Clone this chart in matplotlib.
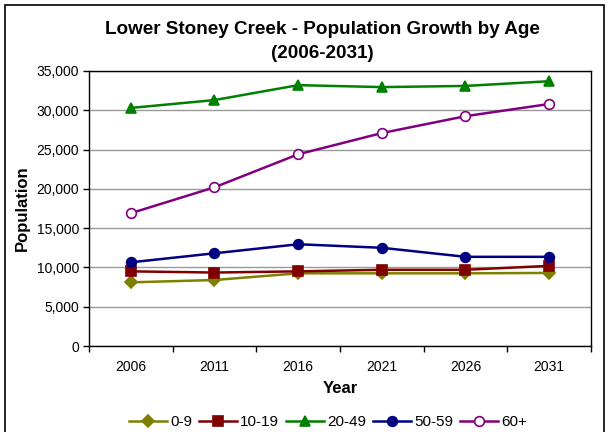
import numpy as np
import matplotlib.pyplot as plt
from matplotlib.patches import Rectangle
from matplotlib.ticker import FuncFormatter, FixedLocator

plt.rcParams['font.family'] = ['Liberation Sans', 'DejaVu Sans']

# ---- data ----
years = ["2006", "2011", "2016", "2021", "2026", "2031"]
age_0_9 = [8100, 8400, 9250, 9250, 9250, 9300]
age_10_19 = [9500, 9350, 9500, 9700, 9700, 10200]
age_20_49 = [30300, 31300, 33200, 32950, 33100, 33700]
age_50_59 = [10650, 11800, 12950, 12500, 11350, 11350]
age_60_plus = [16900, 20200, 24400, 27100, 29250, 30800]

series = [
    ("0-9", age_0_9, "#808000", "D", "#808000", 6.5),
    ("10-19", age_10_19, "#800000", "s", "#800000", 6.5),
    ("20-49", age_20_49, "#008000", "^", "#008000", 7.5),
    ("50-59", age_50_59, "#000080", "o", "#000080", 7),
    ("60+", age_60_plus, "#800080", "o", "white", 7),
]

fig = plt.figure(figsize=(6.1, 4.32), dpi=100)
ax = fig.add_axes([89/610, 1-346/432, (591-89)/610, (346-71)/432])

# outer chart border
fig.patches.append(Rectangle((5/610, -0.05), 599/610, 1.05 - 5/432, transform=fig.transFigure,
                             fill=False, edgecolor='black', lw=1.2))

x = np.arange(len(years))
for name, vals, col, mk, fc, ms in series:
    ax.plot(x, vals, color=col, lw=1.8, marker=mk, markersize=ms,
            markerfacecolor=fc, markeredgecolor=col, markeredgewidth=1.2, label=name)

ax.set_xlim(-0.5, len(years) - 0.5)
ax.set_ylim(0, 35000)
ax.set_yticks(np.arange(0, 35001, 5000))
ax.yaxis.set_major_formatter(FuncFormatter(lambda v, p: f"{int(v):,}"))
ax.yaxis.grid(True, color='#999999', lw=1)
ax.set_axisbelow(True)

ax.set_xticks(x)
ax.set_xticklabels(years)
ax.xaxis.set_minor_locator(FixedLocator(np.arange(-0.5, len(years), 1)))
ax.tick_params(axis='x', which='major', length=0, pad=10, labelsize=10)
ax.tick_params(axis='x', which='minor', length=4, width=1)
ax.tick_params(axis='y', length=4, width=1, labelsize=10, pad=3)

for s in ax.spines.values():
    s.set_color('black')
    s.set_linewidth(1)

ax.set_xlabel("Year", fontsize=12, fontweight='bold', labelpad=5)
ax.set_ylabel("Population", fontsize=12, fontweight='bold', labelpad=5)

fig.text(322/610, 1-29/432, "Lower Stoney Creek - Population Growth by Age",
         ha='center', va='center', fontsize=13.6, fontweight='bold')
fig.text(322/610, 1-54/432, "(2006-2031)", ha='center', va='center', fontsize=13.6, fontweight='bold')

fig.legend(loc='center', bbox_to_anchor=(328/610, 1-422/432), ncol=5, frameon=False,
           fontsize=11, handlelength=2.5, handletextpad=0.2, columnspacing=0.45,
           borderpad=0, borderaxespad=0)

fig.savefig("out.png", dpi=100)
